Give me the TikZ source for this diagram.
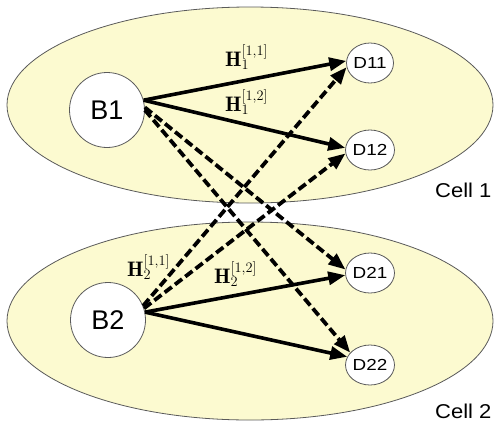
\documentclass[tikz,border=0pt]{standalone}
\usepackage{fontspec}
\setsansfont{Liberation Sans}
\usetikzlibrary{shapes.geometric,arrows.meta}
\definecolor{cellfill}{RGB}{252,250,208}
\definecolor{rim}{RGB}{90,90,90}
\tikzset{
  cell/.style={draw=rim,line width=0.8pt,fill=cellfill},
  bs/.style={circle,draw=rim,line width=0.8pt,fill=white,minimum size=75pt,inner sep=0pt,
    font=\sffamily\fontsize{27}{29}\selectfont},
  user/.style={ellipse,draw=rim,line width=0.8pt,fill=white,minimum width=46pt,minimum height=40pt,
    inner sep=0pt,font=\sffamily\fontsize{16}{18}\selectfont},
  celltag/.style={font=\sffamily\fontsize{20}{22}\selectfont,anchor=base west,inner sep=0pt},
  chan/.style={anchor=base west,inner sep=0pt,font=\fontsize{21}{23}\selectfont},
  direct/.style={line width=3.6pt,-{Triangle[length=17pt,width=13pt]}},
  cross/.style={line width=3.8pt,dash pattern=on 9pt off 4pt,-{Triangle[length=17pt,width=13pt]}}
}
\begin{document}
\begin{tikzpicture}[x=1pt,y=-1pt]
\useasboundingbox (0,0) rectangle (497,426);
% the two cells
\draw[cell] (250,105) ellipse [x radius=243, y radius=98];
\draw[cell] (250,321) ellipse [x radius=243, y radius=99];
% base stations and users
\node[bs] (B1) at (107,110) {B1};
\node[bs] (B2) at (108,320) {B2};
\node[user] (D11) at (370,63) {\scalebox{1.18}[1]{D11}};
\node[user] (D12) at (370,150) {\scalebox{1.18}[1]{D12}};
\node[user] (D21) at (370,273) {\scalebox{1.18}[1]{D21}};
\node[user] (D22) at (370,365) {\scalebox{1.18}[1]{D22}};
% direct links
\draw[direct] (B1.15) -- (D11.175);
\draw[direct] (B1.15) -- (D12.175);
\draw[direct] (B2.12) -- (D21.185);
\draw[direct] (B2.12) -- (D22.160);
% interference links
\draw[cross] (B1.4) -- (D21.172);
\draw[cross] (B1.0) -- (D22.148);
\draw[cross] (B2.22) -- (D11.190);
\draw[cross] (B2.18) -- (D12.188);
% channel labels
\node[chan] (h11) at (225,66) {$\mathbf{H}_1^{[1,1]}$};
\node[chan] (h12) at (225,111) {$\mathbf{H}_1^{[1,2]}$};
\node[chan] (h21) at (127,276) {$\mathbf{H}_2^{[1,1]}$};
\node[chan] (h22) at (214,283) {$\mathbf{H}_2^{[1,2]}$};
% cell names
\node[celltag] (c1) at (435,197) {\scalebox{1.1}[1]{Cell 1}};
\node[celltag] (c2) at (435,418) {\scalebox{1.1}[1]{Cell 2}};
\end{tikzpicture}
\end{document}
